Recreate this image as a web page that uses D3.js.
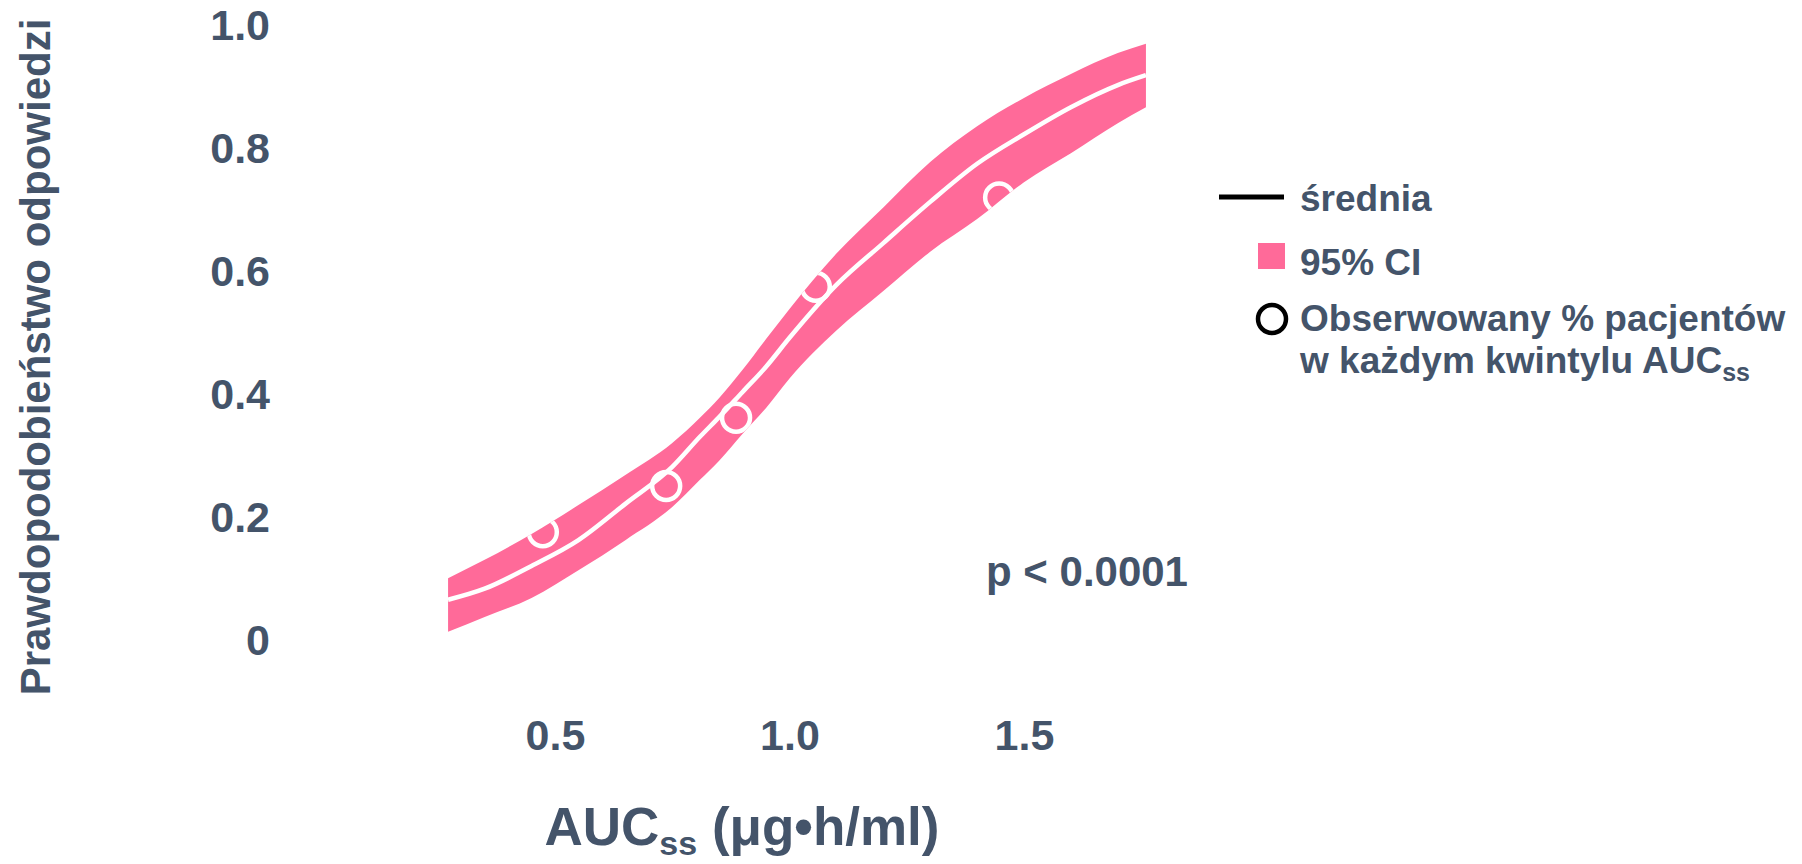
<!DOCTYPE html>
<html lang="pl">
<head>
    <meta charset="utf-8">
    <script src="https://d3js.org/d3.v7.min.js"></script>
</head>
<style>
    body { margin: 0; background: #fff; }
    text { font-family: "Liberation Sans", Arial, sans-serif; font-weight: bold; fill: #44546a; }
</style>
<body>
<script>
    // chart size
    const w = 1802
    const h = 864

    // AUCss grid for the fitted curve and its 95% CI
    const aucGrid = [0.272, 0.35, 0.45, 0.55, 0.65, 0.75, 0.809, 0.85, 0.90, 0.95, 1.0, 1.1, 1.2, 1.3, 1.4, 1.5, 1.6, 1.7, 1.76]
    const meanProb = [0.067, 0.085, 0.122, 0.164, 0.223, 0.283, 0.332, 0.364, 0.405, 0.446, 0.493, 0.579, 0.647, 0.714, 0.776, 0.824, 0.868, 0.904, 0.920]
    const ciUpper  = [0.102, 0.132, 0.174, 0.221, 0.270, 0.322, 0.363, 0.395, 0.441, 0.491, 0.540, 0.630, 0.705, 0.779, 0.837, 0.883, 0.922, 0.956, 0.971]
    const ciLower  = [0.015, 0.039, 0.070, 0.115, 0.164, 0.218, 0.262, 0.293, 0.337, 0.379, 0.427, 0.505, 0.569, 0.633, 0.686, 0.746, 0.793, 0.842, 0.868]

    // observed response per AUCss quintile
    const obsAuc  = [0.474, 0.737, 0.886, 1.056, 1.447]
    const obsProb = [0.177, 0.252, 0.363, 0.576, 0.721]

    // tick labels
    const xTicks = [0.5, 1.0, 1.5]
    const xTickLabels = ["0.5", "1.0", "1.5"]
    const yTicks = [0, 0.2, 0.4, 0.6, 0.8, 1.0]
    const yTickLabels = ["0", "0.2", "0.4", "0.6", "0.8", "1.0"]

    const pink = "#ff6a99"
    const textCol = "#44546a"

    let svg = d3.select("body")
        .append("svg")
        .attr("width", w)
        .attr("height", h)

    let xScale = d3.scaleLinear().domain([0.5, 1.5]).range([555, 1024])
    let yScale = d3.scaleLinear().domain([0, 1]).range([641, 26])

    let curve = aucGrid.map((x, i) => ({x: x, m: meanProb[i], lo: ciLower[i], hi: ciUpper[i]}))
    let obs = obsAuc.map((x, i) => ({x: x, y: obsProb[i]}))

    // axes: only the labels are shown
    let xaxis = d3.axisBottom(xScale)
        .tickValues(xTicks)
        .tickFormat((d, i) => xTickLabels[i])
        .tickSize(0).tickPadding(0)
    let yaxis = d3.axisLeft(yScale)
        .tickValues(yTicks)
        .tickFormat((d, i) => yTickLabels[i])
        .tickSize(0).tickPadding(0)

    svg.append("g")
        .attr("transform", "translate(0,719)")
        .call(xaxis)
    svg.append("g")
        .attr("transform", "translate(270,0)")
        .call(yaxis)
    svg.selectAll(".domain").remove()
    svg.selectAll(".tick text")
        .attr("font-family", null)
        .style("font-size", "43px")
        .attr("fill", textCol)

    // CI band
    let band = d3.area()
        .x(d => xScale(d.x))
        .y0(d => yScale(d.lo))
        .y1(d => yScale(d.hi))
        .curve(d3.curveMonotoneX)

    svg.append("clipPath")
        .attr("id", "bandclip")
        .append("path")
        .attr("d", band(curve))

    svg.append("path")
        .attr("d", band(curve))
        .attr("fill", pink)

    // mean line
    let meanLine = d3.line()
        .x(d => xScale(d.x))
        .y(d => yScale(d.m))
        .curve(d3.curveMonotoneX)

    svg.append("path")
        .attr("d", meanLine(curve))
        .attr("fill", "none")
        .attr("stroke", "white")
        .attr("stroke-width", 4.5)

    // observed points, only visible inside the band
    svg.append("g")
        .attr("clip-path", "url(#bandclip)")
        .selectAll("circle")
        .data(obs)
        .enter()
        .append("circle")
        .attr("cx", d => xScale(d.x))
        .attr("cy", d => yScale(d.y))
        .attr("r", 14)
        .attr("fill", "none")
        .attr("stroke", "white")
        .attr("stroke-width", 4.5)

    // p value
    svg.append("text")
        .attr("x", 986)
        .attr("y", 586)
        .style("font-size", "42px")
        .text("p < 0.0001")

    // y title
    svg.append("text")
        .attr("transform", "translate(50,357) rotate(-90)")
        .attr("text-anchor", "middle")
        .style("font-size", "42px")
        .text("Prawdopodobieństwo odpowiedzi")

    // x title
    let xt = svg.append("text")
        .attr("x", 742)
        .attr("y", 845)
        .attr("text-anchor", "middle")
        .style("font-size", "53px")
    xt.append("tspan").text("AUC")
    xt.append("tspan").attr("dy", 10).style("font-size", "34px").text("ss")
    xt.append("tspan").attr("dy", -10).text(" (μg•h/ml)")

    // legend
    let lg = svg.append("g")
    lg.append("line")
        .attr("x1", 1219).attr("x2", 1284)
        .attr("y1", 197).attr("y2", 197)
        .attr("stroke", "black")
        .attr("stroke-width", 5)
    lg.append("text").attr("x", 1300).attr("y", 211).style("font-size", "37px").text("średnia")

    lg.append("rect")
        .attr("x", 1258).attr("y", 243)
        .attr("width", 27).attr("height", 26)
        .attr("fill", pink)
    lg.append("text").attr("x", 1300).attr("y", 275).style("font-size", "37px").text("95% CI")

    lg.append("circle")
        .attr("cx", 1272).attr("cy", 319)
        .attr("r", 14)
        .attr("fill", "white")
        .attr("stroke", "black")
        .attr("stroke-width", 4.5)
    lg.append("text").attr("x", 1300).attr("y", 331).style("font-size", "37px").text("Obserwowany % pacjentów")
    let l2 = lg.append("text").attr("x", 1300).attr("y", 373).style("font-size", "37px")
    l2.append("tspan").text("w każdym kwintylu AUC")
    l2.append("tspan").attr("dy", 8).style("font-size", "25px").text("ss")
</script>
</body>
</html>
